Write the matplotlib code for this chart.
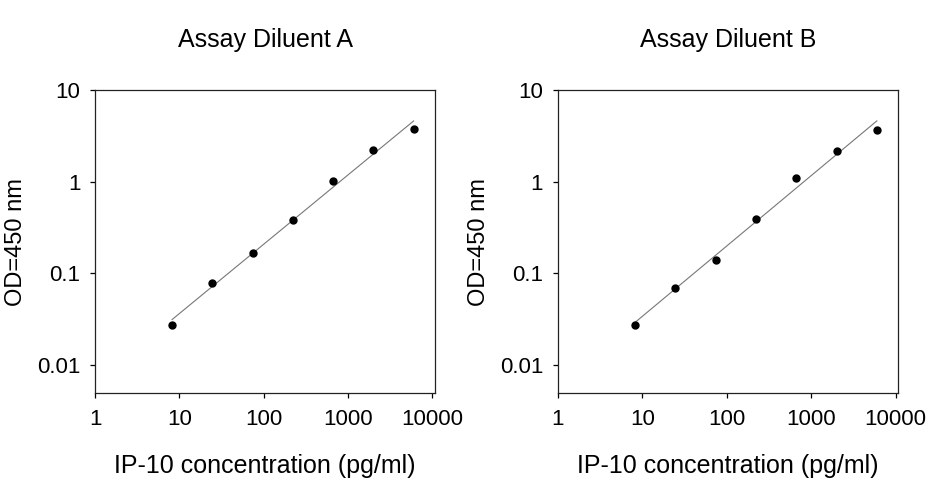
import numpy as np
import matplotlib
matplotlib.use("Agg")
import matplotlib.pyplot as plt
from matplotlib.ticker import FixedLocator, FixedFormatter, NullLocator

plt.rcParams['font.family'] = ['Liberation Sans', 'DejaVu Sans']

# IP-10 standard curve, 3-fold dilutions (pg/ml)
conc = [8.2, 24.7, 74.1, 222, 667, 2000, 6000]
od_a = [0.027, 0.078, 0.166, 0.385, 1.02, 2.21, 3.72]
od_b = [0.027, 0.069, 0.141, 0.391, 1.09, 2.14, 3.65]
titles = ['Assay Diluent A', 'Assay Diluent B']
x_ticks = [1, 10, 100, 1000, 10000]
x_labels = ['1', '10', '100', '1000', '10000']
y_ticks = [0.01, 0.1, 1, 10]
y_labels = ['0.01', '0.1', '1', '10']

fig = plt.figure(figsize=(9.26, 4.8), dpi=100)
positions = [[0.1026, 0.1806, 0.3672, 0.6319],
             [0.6023, 0.1806, 0.3678, 0.6319]]

for pos, od, title in zip(positions, [od_a, od_b], titles):
    ax = fig.add_axes(pos)
    ax.set_xscale('log')
    ax.set_yscale('log')
    ax.set_xlim(1, 10770)
    ax.set_ylim(0.0049, 10)

    # log-log regression line
    lx = np.log10(conc)
    ly = np.log10(od)
    k, b = np.polyfit(lx, ly, 1)
    fit_x = np.array([conc[0], conc[-1]])
    ax.plot(fit_x, 10 ** (k * np.log10(fit_x) + b), color='#777777', linewidth=0.8)
    ax.plot(conc, od, 'o', color='black', markersize=5)

    ax.xaxis.set_major_locator(FixedLocator(x_ticks))
    ax.xaxis.set_major_formatter(FixedFormatter(x_labels))
    ax.yaxis.set_major_locator(FixedLocator(y_ticks))
    ax.yaxis.set_major_formatter(FixedFormatter(y_labels))
    ax.xaxis.set_minor_locator(NullLocator())
    ax.yaxis.set_minor_locator(NullLocator())
    ax.tick_params(axis='x', direction='out', length=3.5, width=0.9, pad=8, labelsize=16)
    ax.tick_params(axis='y', direction='out', length=3.5, width=0.9, pad=7, labelsize=16)
    for sp in ax.spines.values():
        sp.set_linewidth(0.9)
        sp.set_color('#222222')

    ax.set_title(title, fontsize=18, pad=31)
    ax.set_xlabel('IP-10 concentration (pg/ml)', fontsize=18)
    ax.xaxis.set_label_coords(0.5, -0.2)
    ax.set_ylabel('OD=450 nm', fontsize=17)
    ax.yaxis.set_label_coords(-0.2, 0.5)

fig.savefig('out.png', dpi=100)
